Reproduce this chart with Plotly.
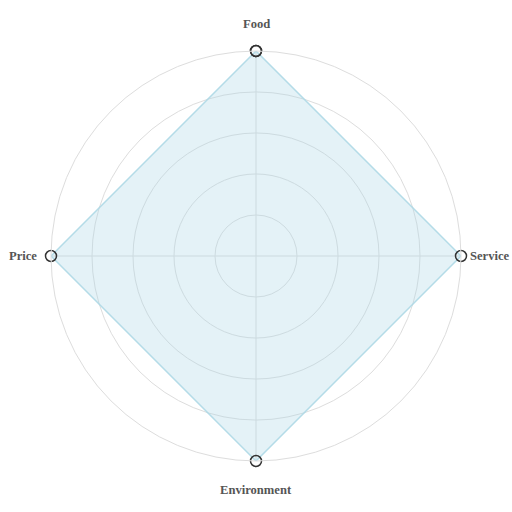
import plotly.graph_objects as go

categories = ["Food", "Service", "Environment", "Price"]
values = [5, 5, 5, 5]
radial_ticks = [1, 2, 3, 4, 5]

fig = go.Figure()
fig.add_trace(go.Scatterpolar(
    r=values + values[:1],
    theta=categories + categories[:1],
    mode="lines+markers",
    fill="toself",
    fillcolor="rgba(173,216,230,0.33)",
    line=dict(color="rgba(173,216,230,0.9)", width=1.5),
    marker=dict(size=11, color="rgba(255,255,255,0)", line=dict(color="#333333", width=1.5)),
    showlegend=False,
    hoverinfo="skip",
))

# label placement per category (top, right, bottom, left)
label_pos = [
    dict(x=0.5, y=1.0, xanchor="center", yanchor="middle", xshift=0, yshift=27),
    dict(x=1.0, y=0.5, xanchor="left", yanchor="middle", xshift=7, yshift=0),
    dict(x=0.5, y=0.0, xanchor="center", yanchor="middle", xshift=0, yshift=-29),
    dict(x=0.0, y=0.5, xanchor="right", yanchor="middle", xshift=-12, yshift=0),
]
annotations = []
for cat, p in zip(categories, label_pos):
    annotations.append(dict(
        text=f"<b>{cat}</b>", xref="paper", yref="paper", showarrow=False,
        font=dict(family="Liberation Serif", size=12.6, color="#555555"), **p,
    ))

fig.update_layout(
    width=512, height=512,
    margin=dict(l=51, r=51, t=51, b=51),
    paper_bgcolor="white",
    plot_bgcolor="white",
    annotations=annotations,
    polar=dict(
        domain=dict(x=[0, 1], y=[0, 1]),
        bgcolor="white",
        radialaxis=dict(
            range=[0, 5], tickvals=radial_ticks, showticklabels=False,
            ticks="", showline=False, gridcolor="#dddddd", gridwidth=1,
        ),
        angularaxis=dict(
            rotation=90, direction="clockwise",
            linecolor="#dddddd", linewidth=1,
            gridcolor="#dddddd", gridwidth=1,
            ticks="", showticklabels=False,
        ),
    ),
)

fig.write_html("out.html")
